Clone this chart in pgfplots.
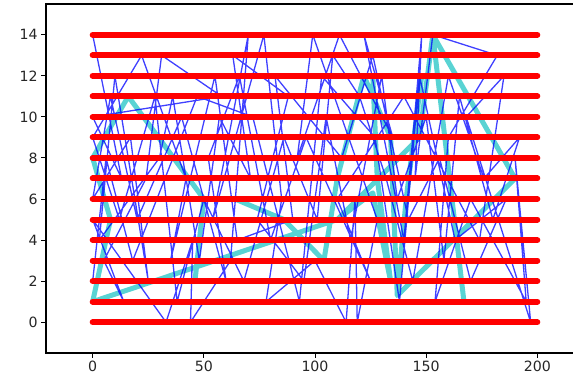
\documentclass[border=0pt]{standalone}
\usepackage{pgfplots}
\pgfplotsset{compat=1.18}
\usepackage{fontspec}
\setmainfont{DejaVu Sans}
\definecolor{mplcyan}{rgb}{0.1,0.76,0.76}
\begin{document}
\begin{tikzpicture}[x=1bp,y=1bp]
\begin{axis}[at={(0,0)}, anchor=south west, scale only axis,
  width=538bp, height=349bp,
  xmin=-21, xmax=221, ymin=-1.5, ymax=15.5,
  xtick={0,50,100,150,200}, ytick={0,2,4,6,8,10,12,14},
  tick align=outside, tick pos=left, major tick length=4.9bp,
  tick style={black, line width=1bp},
  axis line style={line width=1.1bp},
  ticklabel style={font=\fontsize{14.2}{16}\selectfont, text=black!85},
  /pgf/number format/assume math mode=true,
  unbounded coords=jump]
% cyan path
\addplot[mplcyan, opacity=0.72, line width=5bp, line join=round] coordinates {
(46,2) (50,6) (16,11) (0,8) (8,5) (0,1) (110,5) (147,9) (153,14) (190,7)
(137,1.3) (134,9) (122,12) (110,7) (104,3) (86,5) (64,6)
(64,nan)
(126,12) (128,7) (134,2) (126,6.3) (110,5)
(110,nan)
(153,14) (167,1)
(167,nan)
(148,12) (141,6) (137,1.3)
};
% blue path
\addplot[blue, opacity=0.75, line width=1.3bp, line join=round] coordinates {
(0,14) (13,7) (0,10) (58,11) (31,13) (24,7) (5,3) (14,1) (0,5) (33,0)
(45,4) (44,0) (62,3) (70,14) (54,5) (77,14) (85,6) (78,1) (100,3) (114,0)
(118,6) (119,0) (128,5) (99,14) (92,8) (111,14) (135,9) (122,14) (140,4) (148,14)
(145,7) (153,14) (182,13) (160,9) (154,1) (170,6) (195,1) (190,8) (197,0) (168,10)
(185,12) (174,4) (140,11) (110,6) (125,2) (96,9) (80,4) (66,12) (52,8) (60,2)
(40,10) (20,5) (8,11) (0,6) (17,9) (25,2) (10,12) (3,4) (30,8) (36,11)
(48,3) (57,10) (71,7) (63,13) (88,11) (74,5) (95,2) (105,10) (116,4) (130,12)
(137,6) (150,10) (158,3) (165,11) (180,5) (192,9) (176,7) (160,12) (144,2) (132,7)
(120,11) (108,13) (101,5) (86,9) (68,2) (50,6) (38,1) (28,11) (12,5) (0,9)
(22,13) (42,7) (35,3) (55,12) (65,4) (90,5) (82,12) (112,8) (126,13) (142,5)
(156,8) (170,2) (186,6) (163,4) (147,12) (138,1) (127,9) (103,12) (93,1) (72,10)
(47,11) (18,3) (6,8) (0,2)
};
% red rows
\addplot[red, line width=6bp, line cap=round] coordinates {
(0,0) (200,0) (200,nan) (0,1) (200,1) (200,nan) (0,2) (200,2) (200,nan)
(0,3) (200,3) (200,nan) (0,4) (200,4) (200,nan) (0,5) (200,5) (200,nan)
(0,6) (200,6) (200,nan) (0,7) (200,7) (200,nan) (0,8) (200,8) (200,nan)
(0,9) (200,9) (200,nan) (0,10) (200,10) (200,nan) (0,11) (200,11) (200,nan)
(0,12) (200,12) (200,nan) (0,13) (200,13) (200,nan) (0,14) (200,14)
};
\end{axis}
\pgfresetboundingbox
\useasboundingbox (-46bp,-32bp) rectangle (527bp,353bp);
\end{tikzpicture}
\end{document}
